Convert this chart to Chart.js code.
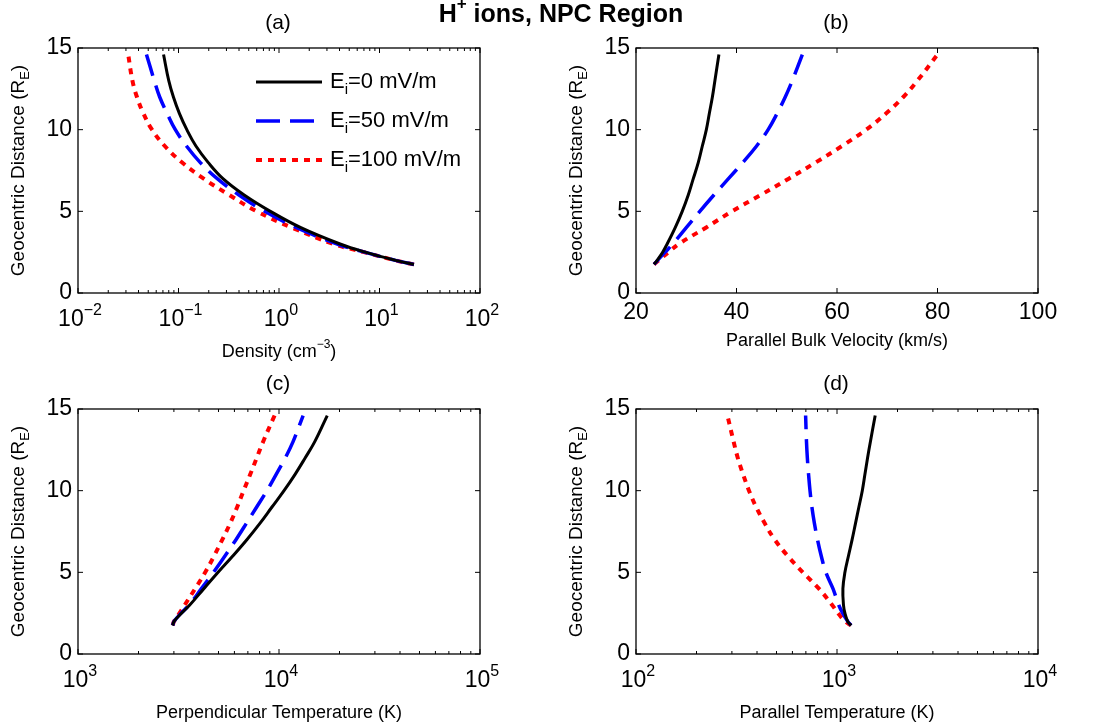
<!DOCTYPE html>
<html>
<head>
<meta charset="utf-8">
<script src="https://cdn.jsdelivr.net/npm/chart.js@4.4.1/dist/chart.umd.min.js"></script>
<style>
  html, body { margin: 0; padding: 0; background: #fff; }
  #wrap { position: relative; width: 1093px; height: 725px; }
  #wrap canvas { position: absolute; left: 0; top: 0; }
</style>
</head>
<body>
<div id="wrap">
  <canvas id="pa" width="1093" height="725"></canvas>
  <canvas id="pb" width="1093" height="725"></canvas>
  <canvas id="pc" width="1093" height="725"></canvas>
  <canvas id="pd" width="1093" height="725"></canvas>
</div>
<script>
// geocentric distance (R_E), shared by every curve
const DIST = [1.75, 2, 2.5, 3, 4, 5, 6, 7, 8, 9, 10, 11, 12, 13, 14.6];

// (a) density, cm^-3
const DENS_0   = [22, 14.5, 7.2, 4.05, 1.65, 0.82, 0.45, 0.277, 0.197, 0.149, 0.121, 0.102, 0.089, 0.080, 0.071];
const DENS_50  = [22, 14.4, 7.1, 3.8, 1.5, 0.72, 0.40, 0.243, 0.164, 0.120, 0.093, 0.077, 0.065, 0.0575, 0.048];
const DENS_100 = [22, 14.3, 7.0, 3.5, 1.35, 0.60, 0.32, 0.178, 0.108, 0.073, 0.0545, 0.0447, 0.0386, 0.0348, 0.0316];

// (b) parallel bulk velocity, km/s
const VEL_0   = [23.6, 24.2, 25.3, 26.2, 27.8, 29.2, 30.4, 31.4, 32.4, 33.2, 34.0, 34.6, 35.2, 35.7, 36.5];
const VEL_50  = [23.6, 24.3, 25.8, 27.3, 30.0, 32.7, 35.5, 38.4, 41.3, 44.0, 46.3, 48.1, 49.7, 51.1, 53.1];
const VEL_100 = [23.6, 24.5, 26.5, 28.5, 33.9, 39.1, 44.8, 50.4, 55.8, 61.0, 65.8, 69.8, 73.2, 76.0, 80.0];

// (c) perpendicular temperature, K
const TPERP_0   = [2958, 3006, 3273, 3597, 4227, 4977, 5888, 6918, 8035, 9226, 10593, 12023, 13490, 15066, 17378];
const TPERP_50  = [2958, 3006, 3258, 3573, 4111, 4721, 5383, 6109, 6887, 7745, 8710, 9683, 10740, 11750, 13183];
const TPERP_100 = [2958, 3006, 3199, 3396, 3828, 4295, 4753, 5224, 5715, 6194, 6668, 7194, 7745, 8337, 9506];

// (d) parallel temperature, K
const TPAR_0   = [1175, 1130, 1095, 1077, 1070, 1095, 1140, 1189, 1236, 1285, 1336, 1377, 1419, 1466, 1549];
const TPAR_50  = [1175, 1130, 1067, 1020, 955, 880, 835, 800, 772, 750, 734, 722, 712, 705, 698];
const TPAR_100 = [1175, 1096, 1012, 946, 813, 676, 569, 490, 437, 396, 365, 341, 321, 306, 285];

// tick labels
const Y_TICKS = [0, 5, 10, 15];
const VEL_TICKS = [20, 40, 60, 80, 100];
const DENS_TICKS = [0.01, 0.1, 1, 10, 100];
const TPERP_TICKS = [1e3, 1e4, 1e5];
const TPAR_TICKS = [1e2, 1e3, 1e4];

const LEGEND_LABELS = ["=0 mV/m", "=50 mV/m", "=100 mV/m"];

const FONT = "'Liberation Sans', Arial, Helvetica, sans-serif";
const W = 1093, H = 725;
const YW = 40, XH = 40;
const TICK_SIZE = 23;

const STYLES = [
  { color: "#000000", width: 3,   dash: [] },
  { color: "#0000ff", width: 3.5, dash: [24, 10] },
  { color: "#ff0000", width: 4,   dash: [6, 6] }
];

// text made of normal / superscript / subscript pieces
function richWidth(ctx, parts, size, bold) {
  let w = 0;
  parts.forEach(([t, k]) => {
    const s = k === "n" ? size : Math.round(size * 0.68);
    ctx.font = (bold ? "bold " : "") + s + "px " + FONT;
    w += ctx.measureText(t).width;
  });
  return w;
}
function drawRich(ctx, parts, x, y, size, bold, align) {
  const total = richWidth(ctx, parts, size, bold);
  let cx = align === "left" ? x : x - total / 2;
  ctx.textBaseline = "middle";
  ctx.textAlign = "left";
  ctx.fillStyle = "#000";
  parts.forEach(([t, k]) => {
    const s = k === "n" ? size : Math.round(size * 0.68);
    ctx.font = (bold ? "bold " : "") + s + "px " + FONT;
    let dy = 0;
    if (k === "sup") dy = -size * 0.42;
    if (k === "sub") dy = size * 0.36;
    ctx.fillText(t, cx, y + dy);
    cx += ctx.measureText(t).width;
  });
}

const EXP = { "-2": "\u22122", "-1": "\u22121" };
function logLabel(v) {
  const e = String(Math.round(Math.log10(v)));
  return [["10", "n"], [EXP[e] || e, "sup"]];
}

function makePanel(id, p) {
  const [l, t, r, b] = p.box;
  const isLog = p.xType === "logarithmic";

  const plugin = {
    id: "matlab_" + id,
    afterDraw(chart) {
      const ctx = chart.ctx;
      const xs = chart.scales.x, ys = chart.scales.y;
      const a = chart.chartArea;
      ctx.save();
      ctx.strokeStyle = "#000";
      ctx.lineWidth = 1.3;
      ctx.setLineDash([]);
      ctx.strokeRect(a.left, a.top, a.right - a.left, a.bottom - a.top);

      // inward ticks on all four sides
      const tick = (px, len, horiz) => {
        ctx.beginPath();
        if (horiz) {
          ctx.moveTo(px, a.bottom); ctx.lineTo(px, a.bottom - len);
          ctx.moveTo(px, a.top); ctx.lineTo(px, a.top + len);
        } else {
          ctx.moveTo(a.left, px); ctx.lineTo(a.left + len, px);
          ctx.moveTo(a.right, px); ctx.lineTo(a.right - len, px);
        }
        ctx.stroke();
      };
      ctx.lineWidth = 1;
      Y_TICKS.forEach(v => tick(ys.getPixelForValue(v), 5, false));
      p.xTicks.forEach(v => tick(xs.getPixelForValue(v), 5, true));
      if (isLog) {
        for (let i = 0; i < p.xTicks.length - 1; i++) {
          for (let k = 2; k <= 9; k++) {
            tick(xs.getPixelForValue(p.xTicks[i] * k), 3, true);
          }
        }
        p.xTicks.forEach(v => {
          drawRich(ctx, logLabel(v), xs.getPixelForValue(v) + 2, a.bottom + 27, TICK_SIZE, false, "center");
        });
      }

      // axis titles
      drawRich(ctx, p.xTitle, (a.left + a.right) / 2, a.bottom + (isLog ? 59 : 48), 18, false, "center");
      ctx.save();
      ctx.translate(a.left - 59, (a.top + a.bottom) / 2);
      ctx.rotate(-Math.PI / 2);
      drawRich(ctx, [["Geocentric Distance (R", "n"], ["E", "sub"], [")", "n"]], 0, 0, 19, false, "center");
      ctx.restore();

      // panel title
      drawRich(ctx, [[p.label, "n"]], (a.left + a.right) / 2 - 1, a.top - 25, 21, false, "center");

      if (p.mainTitle) {
        drawRich(ctx, [["H", "n"], ["+", "sup"], [" ions, NPC Region", "n"]], 561, 15, 25, true, "center");
      }

      if (p.legend) {
        const rows = [82, 121, 160];
        chart.data.datasets.forEach((ds, i) => {
          ctx.strokeStyle = ds.borderColor;
          ctx.lineWidth = ds.borderWidth;
          ctx.setLineDash(ds.borderDash);
          ctx.beginPath();
          ctx.moveTo(256, rows[i]);
          ctx.lineTo(322, rows[i]);
          ctx.stroke();
          ctx.setLineDash([]);
          drawRich(ctx, [["E", "n"], ["i", "sub"], [LEGEND_LABELS[i], "n"]], 330, rows[i], 22, false, "left");
        });
      }
      ctx.restore();
    }
  };

  new Chart(document.getElementById(id), {
    type: "scatter",
    data: {
      datasets: p.series.map((xsArr, i) => ({
        data: DIST.map((d, j) => ({ x: xsArr[j], y: d })),
        showLine: true,
        borderColor: STYLES[i].color,
        borderWidth: STYLES[i].width,
        borderDash: STYLES[i].dash,
        borderCapStyle: "butt",
        pointRadius: 0,
        tension: 0.4,
        fill: false
      }))
    },
    options: {
      responsive: false,
      animation: false,
      events: [],
      layout: { padding: { left: l - YW, top: t, right: W - r, bottom: H - b - XH } },
      plugins: { legend: { display: false }, tooltip: { enabled: false }, title: { display: false } },
      scales: {
        x: {
          type: p.xType,
          min: p.xTicks[0],
          max: p.xTicks[p.xTicks.length - 1],
          position: "bottom",
          grid: { display: false, drawTicks: false },
          border: { display: false },
          afterBuildTicks: s => { s.ticks = p.xTicks.map(v => ({ value: v })); },
          afterFit: s => { s.height = XH; },
          ticks: {
            display: !isLog,
            autoSkip: false,
            maxRotation: 0,
            padding: 6,
            color: "#000",
            font: { family: FONT, size: TICK_SIZE }
          }
        },
        y: {
          type: "linear",
          min: 0,
          max: 15,
          grid: { display: false, drawTicks: false },
          border: { display: false },
          afterBuildTicks: s => { s.ticks = Y_TICKS.map(v => ({ value: v })); },
          afterFit: s => { s.width = YW; },
          ticks: { padding: 6, color: "#000", font: { family: FONT, size: TICK_SIZE } }
        }
      }
    },
    plugins: [plugin]
  });
}

makePanel("pa", {
  box: [78, 48, 480, 293], xType: "logarithmic", xTicks: DENS_TICKS,
  series: [DENS_0, DENS_50, DENS_100], label: "(a)",
  xTitle: [["Density (cm", "n"], ["\u22123", "sup"], [")", "n"]],
  legend: true, mainTitle: true
});
makePanel("pb", {
  box: [636, 48, 1038, 293], xType: "linear", xTicks: VEL_TICKS,
  series: [VEL_0, VEL_50, VEL_100], label: "(b)",
  xTitle: [["Parallel Bulk Velocity (km/s)", "n"]]
});
makePanel("pc", {
  box: [78, 409, 480, 654], xType: "logarithmic", xTicks: TPERP_TICKS,
  series: [TPERP_0, TPERP_50, TPERP_100], label: "(c)",
  xTitle: [["Perpendicular Temperature (K)", "n"]]
});
makePanel("pd", {
  box: [636, 409, 1038, 654], xType: "logarithmic", xTicks: TPAR_TICKS,
  series: [TPAR_0, TPAR_50, TPAR_100], label: "(d)",
  xTitle: [["Parallel Temperature (K)", "n"]]
});
</script>
</body>
</html>
